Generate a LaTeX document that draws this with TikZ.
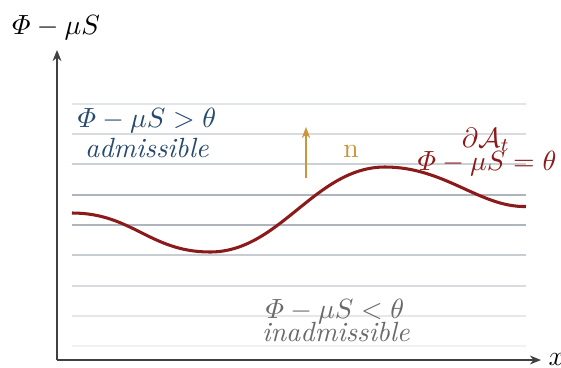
\documentclass[tikz,border=0pt]{standalone}
\usepackage{amsmath}
\usetikzlibrary{arrows.meta}
\definecolor{curvered}{HTML}{8B1A1A}
\definecolor{admblue}{HTML}{264A70}
\definecolor{inadgray}{HTML}{6A6A6A}
\definecolor{normgold}{HTML}{C9963A}
\definecolor{gridslate}{HTML}{7C8898}
\tikzset{
  axis/.style={line width=0.5pt, draw=black!75, -{Stealth[length=4pt,width=3.2pt]}},
  gridline/.style={line width=0.45pt},
  lbl/.style={inner sep=0pt, anchor=base},
  bdcurve/.style={line width=1.1pt, draw=curvered},
  normarrow/.style={line width=0.45pt, draw=normgold, -{Stealth[length=4pt,width=3pt]}}
}
\begin{document}
\begin{tikzpicture}[x=0.36pt,y=-0.36pt]
\useasboundingbox (0,0) rectangle (561,367);
% grid lines
\foreach \yy/\pc in {104/22,134/30,164/40,195/62,225/62,255/42,286/30,316/20,346/12}{
  \draw[gridline, draw=gridslate!\pc] (72,\yy) -- (526,\yy);
}
% axes
\coordinate (origin) at (57,360);
\coordinate (ytip) at (57,50);
\coordinate (xtip) at (541,360);
\draw[axis] (origin) -- (ytip);
\draw[axis] (origin) -- (xtip);
\node[inner sep=0pt, anchor=west] (xlabel) at (548,360) {$x$};
\node[lbl] (ylabel) at (56,34) {$\varPhi-\mu S$};
% boundary curve
\coordinate (c0) at (72,213);
\coordinate (cmin) at (210,252);
\coordinate (cmax) at (385,167);
\coordinate (cend) at (526,206.5);
\draw[bdcurve] (c0) .. controls (132,213) and (150,252) .. (cmin)
  .. controls (280,252) and (315,167) .. (cmax)
  .. controls (445,167) and (480,207.5) .. (cend);
% normal
\coordinate (nbase) at (306,178);
\coordinate (ntip) at (306,127);
\draw[normarrow] (nbase) -- (ntip);
\node[lbl, text=normgold] (nlabel) at (351,157) {n};
% region labels
\node[lbl, text=admblue] (adm1) at (147,127) {$\varPhi-\mu S>\theta$};
\node[lbl, text=admblue] (adm2) at (147,157) {\textit{admissible}};
\node[lbl, text=curvered] (bd1) at (486,147) {$\partial\mathcal{A}_t$};
\node[lbl, text=curvered] (bd2) at (487,170) {$\varPhi-\mu S=\theta$};
\node[lbl, text=inadgray] (inad1) at (335,318) {$\varPhi-\mu S<\theta$};
\node[lbl, text=inadgray] (inad2) at (336,341) {\textit{inadmissible}};
\end{tikzpicture}
\end{document}
